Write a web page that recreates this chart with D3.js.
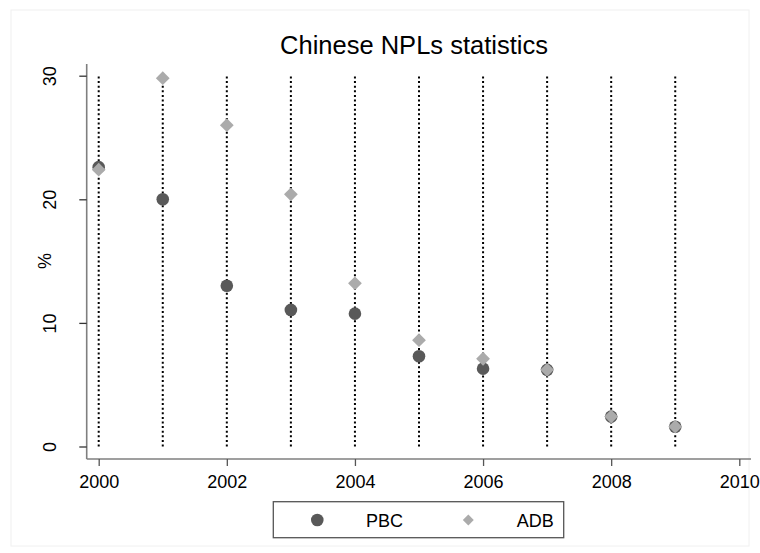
<!DOCTYPE html>
<html>
<head>
<meta charset="utf-8">
<script src="https://cdn.jsdelivr.net/npm/d3@7"></script>
<style>
  html, body { margin: 0; padding: 0; background: #fff; }
  svg { display: block; }
  text { font-family: "Liberation Sans", Arial, Helvetica, sans-serif; fill: #000; }
</style>
</head>
<body>
<svg id="chart" width="760" height="553"></svg>
<script>
// ---- data ----
const years = [2000, 2001, 2002, 2003, 2004, 2005, 2006, 2007, 2008, 2009];
const pbc   = [22.6, 20.0, 13.0, 11.05, 10.75, 7.3, 6.3, 6.2, 2.42, 1.6];
const adb   = [22.4, 29.8, 26.0, 20.4, 13.2, 8.6, 7.1, 6.2, 2.42, 1.6];
const xTicks = [2000, 2002, 2004, 2006, 2008, 2010];
const yTicks = [0, 10, 20, 30];
const seriesNames = ["PBC", "ADB"];
const titleText = "Chinese NPLs statistics";
const yTitle = "%";

// ---- layout ----
const svg = d3.select("#chart");
const axisX = 86.7, axisY = 459, axisTop = 64, axisRight = 751;
const x = d3.scaleLinear().domain([2000, 2010]).range([98.7, 739.3]);
const y = d3.scaleLinear().domain([0, 30]).range([446.5, 75.7]);

// faint outer border
svg.append("rect").attr("x", 11).attr("y", 10).attr("width", 738).attr("height", 536)
  .attr("fill", "none").attr("stroke", "#f0f0f0").attr("stroke-width", 1);

// title
svg.append("text").attr("x", 414).attr("y", 54.3).attr("text-anchor", "middle")
  .style("font-size", "25.5px").text(titleText);

// vertical dotted lines (drawn from 0 up to 30)
svg.append("g").selectAll("line").data(years).join("line")
  .attr("x1", d => x(d)).attr("x2", d => x(d))
  .attr("y1", y(0)).attr("y2", y(30))
  .attr("stroke", "#000").attr("stroke-width", 2)
  .attr("stroke-dasharray", "2,2.6");

// axis lines
svg.append("line").attr("x1", axisX).attr("x2", axisX).attr("y1", axisTop).attr("y2", axisY)
  .attr("stroke", "#7f7f7f").attr("stroke-width", 1.6);
svg.append("line").attr("x1", axisX).attr("x2", axisRight).attr("y1", axisY).attr("y2", axisY)
  .attr("stroke", "#7f7f7f").attr("stroke-width", 1.6);

// y axis
const yAxis = svg.append("g").attr("transform", `translate(${axisX},0)`)
  .call(d3.axisLeft(y).tickValues(yTicks).tickSize(7.4).tickFormat(d3.format("d")));
yAxis.select(".domain").remove();
yAxis.selectAll(".tick line").attr("stroke", "#333").attr("stroke-width", 1.3);
yAxis.selectAll(".tick text")
  .attr("transform", "rotate(-90)").attr("x", 0).attr("y", -30.7).attr("dy", 0)
  .attr("text-anchor", "middle").style("font-size", "18px").style("font-family", null);

// x axis
const xAxis = svg.append("g").attr("transform", `translate(0,${axisY})`)
  .call(d3.axisBottom(x).tickValues(xTicks).tickSize(7).tickFormat(d3.format("d")));
xAxis.select(".domain").remove();
xAxis.selectAll(".tick line").attr("stroke", "#555").attr("stroke-width", 1.3);
xAxis.selectAll(".tick text").attr("y", 29).attr("dy", 0)
  .style("font-size", "18px").style("font-family", null);

// y title
svg.append("text").attr("transform", `translate(51,${y(15)}) rotate(-90)`)
  .attr("text-anchor", "middle").style("font-size", "18px").text(yTitle);

// markers
const circleColor = "#595959", diamondColor = "#ababab";
const diamond = d3.symbol().type(d3.symbolSquare).size(95);
svg.append("g").selectAll("circle").data(years).join("circle")
  .attr("cx", d => x(d)).attr("cy", (d, i) => y(pbc[i])).attr("r", 6.3)
  .attr("fill", circleColor);
svg.append("g").selectAll("path").data(years).join("path")
  .attr("d", diamond)
  .attr("transform", (d, i) => `translate(${x(d)},${y(adb[i])}) rotate(45)`)
  .attr("fill", diamondColor);

// legend
const lg = svg.append("g");
lg.append("rect").attr("x", 273.3).attr("y", 501.7).attr("width", 290.4).attr("height", 36)
  .attr("fill", "#fff").attr("stroke", "#555").attr("stroke-width", 1.3);
lg.append("circle").attr("cx", 317.3).attr("cy", 520).attr("r", 6.3).attr("fill", circleColor);
lg.append("path").attr("d", d3.symbol().type(d3.symbolSquare).size(60))
  .attr("transform", "translate(468.3,520) rotate(45)").attr("fill", diamondColor);
lg.append("text").attr("x", 366).attr("y", 526.7).style("font-size", "18px").text(seriesNames[0]);
lg.append("text").attr("x", 516.7).attr("y", 526.7).style("font-size", "18px").text(seriesNames[1]);
</script>
</body>
</html>
